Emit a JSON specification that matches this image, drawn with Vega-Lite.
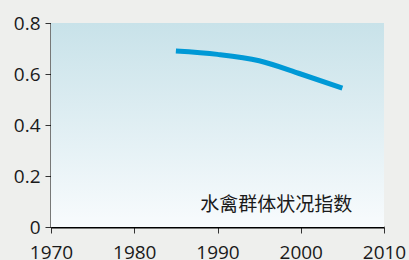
{
  "$schema": "https://vega.github.io/schema/vega-lite/v6.json",
  "width": 333,
  "height": 204,
  "autosize": {"type": "none"},
  "padding": {"left": 51, "top": 23, "right": 25, "bottom": 33},
  "background": "#eeefed",
  "config": {
    "view": {"stroke": null},
    "font": "Open Sans",
    "axis": {
      "domainColor": "#000000",
      "domainWidth": 2,
      "tickColor": "#333333",
      "tickWidth": 1,
      "tickSize": 6,
      "labelFont": "Open Sans",
      "labelFontSize": 19,
      "labelColor": "#1a1a1a",
      "grid": false,
      "title": null
    }
  },
  "datasets": {
    "bg": [{"x0": 1970, "x1": 2010, "y0": 0, "y1": 0.8}],
    "series": [
      {"year": 1985, "value": 0.69},
      {"year": 1990, "value": 0.677},
      {"year": 1995, "value": 0.652},
      {"year": 2000, "value": 0.600},
      {"year": 2005, "value": 0.545}
    ],
    "label": [{"year": 2006.2, "value": 0.085, "text": "水禽群体状况指数"}]
  },
  "layer": [
    {
      "data": {"name": "bg"},
      "mark": {
        "type": "rect",
        "color": {
          "gradient": "linear",
          "x1": 0, "y1": 0, "x2": 0, "y2": 1,
          "stops": [
            {"offset": 0, "color": "#c8e2e9"},
            {"offset": 1, "color": "#f8fbfd"}
          ]
        }
      },
      "encoding": {
        "x": {"field": "x0", "type": "quantitative", "scale": {"domain": [1970, 2010]},
              "axis": {"values": [1970, 1980, 1990, 2000, 2010], "format": "d", "labelPadding": 10, "labelFlush": false, "labelOverlap": false}},
        "x2": {"field": "x1"},
        "y": {"field": "y0", "type": "quantitative", "scale": {"domain": [0, 0.8]},
              "axis": {"values": [0, 0.2, 0.4, 0.6, 0.8], "format": "~g", "labelPadding": 5, "labelFlush": false, "labelOverlap": false}},
        "y2": {"field": "y1"}
      }
    },
    {
      "data": {"name": "series"},
      "mark": {"type": "line", "color": "#0099d6", "strokeWidth": 5, "interpolate": "monotone"},
      "encoding": {
        "x": {"field": "year", "type": "quantitative"},
        "y": {"field": "value", "type": "quantitative"}
      }
    },
    {
      "data": {"name": "label"},
      "mark": {"type": "text", "align": "right", "baseline": "middle", "font": "Noto Sans CJK SC", "fontSize": 19, "color": "#1a1a1a"},
      "encoding": {
        "x": {"field": "year", "type": "quantitative"},
        "y": {"field": "value", "type": "quantitative"},
        "text": {"field": "text"}
      }
    }
  ]
}
